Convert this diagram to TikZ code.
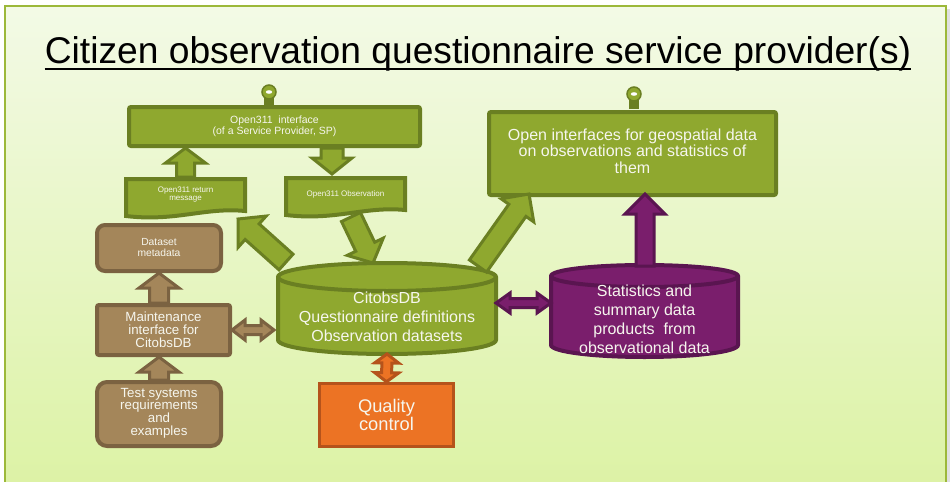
\documentclass[tikz,border=0pt]{standalone}
\usepackage{fontspec}
\setmainfont{Liberation Sans}
\usetikzlibrary{calc}

\definecolor{gfill}{HTML}{8FA82F}
\definecolor{gline}{HTML}{6A7F22}
\definecolor{bfill}{HTML}{A4865A}
\definecolor{bline}{HTML}{7B6241}
\definecolor{pfill}{HTML}{7A1E6C}
\definecolor{pline}{HTML}{5A1550}
\definecolor{ofill}{HTML}{EC7324}
\definecolor{oline}{HTML}{B5531B}
\definecolor{frameline}{HTML}{9CB83A}
\definecolor{bgtop}{HTML}{F3FAE6}
\definecolor{bgbot}{HTML}{DCF2A4}
\definecolor{txt}{HTML}{F6F6EE}

% single block arrow: style, from, to, shaft half width, head half width, head length (pt)
\newcommand\blockarrow[6]{%
  \path[#1] let \p1=(#2), \p2=(#3), \n1={atan2(\y2-\y1,\x2-\x1)},
    \n2={veclen(\x2-\x1,\y2-\y1)-#6} in
    ($(\p1)+(\n1+90:#4pt)$) -- ($(\p1)+(\n1:\n2)+(\n1+90:#4pt)$)
    -- ($(\p1)+(\n1:\n2)+(\n1+90:#5pt)$) -- (\p2)
    -- ($(\p1)+(\n1:\n2)+(\n1-90:#5pt)$) -- ($(\p1)+(\n1:\n2)+(\n1-90:#4pt)$)
    -- ($(\p1)+(\n1-90:#4pt)$) -- cycle;}
% double-headed block arrow, same arguments
\newcommand\twowayarrow[6]{%
  \path[#1] let \p1=(#2), \p2=(#3), \n1={atan2(\y2-\y1,\x2-\x1)},
    \n2={veclen(\x2-\x1,\y2-\y1)-#6} in
    (\p1) -- ($(\p1)+(\n1:#6pt)+(\n1+90:#5pt)$) -- ($(\p1)+(\n1:#6pt)+(\n1+90:#4pt)$)
    -- ($(\p1)+(\n1:\n2)+(\n1+90:#4pt)$) -- ($(\p1)+(\n1:\n2)+(\n1+90:#5pt)$)
    -- (\p2)
    -- ($(\p1)+(\n1:\n2)+(\n1-90:#5pt)$) -- ($(\p1)+(\n1:\n2)+(\n1-90:#4pt)$)
    -- ($(\p1)+(\n1:#6pt)+(\n1-90:#4pt)$) -- ($(\p1)+(\n1:#6pt)+(\n1-90:#5pt)$)
    -- cycle;}

\tikzset{
  every node/.style={inner sep=0pt, align=center, text=txt},
  gbox/.style={draw=gline, fill=gfill, line width=4pt, rounded corners=2pt},
  bbox/.style={draw=bline, fill=bfill, line width=4pt},
  pshape/.style={draw=pline, fill=pfill, line width=4pt},
  obox/.style={draw=oline, fill=ofill, line width=3.5pt},
  garrow/.style={draw=gline, fill=gfill, line width=3pt, line join=miter},
  barrow/.style={draw=bline, fill=bfill, line width=3pt, line join=miter},
  parrow/.style={draw=pline, fill=pfill, line width=3pt, line join=miter},
  oarrow/.style={draw=oline, fill=ofill, line width=3pt, line join=miter},
  fs/.style={font=\fontsize{#1}{#1}\selectfont},
}

\begin{document}
\begin{tikzpicture}[x=1pt, y=-1pt]
\useasboundingbox (0,0) rectangle (951,482);

% panel background
\begin{scope}
  \clip (0,0) rectangle (951,482);
  \fill[white] (0,0) rectangle (951,482);
  \fill[black!12] (8,9) rectangle (950,500);
  \shade[top color=bgtop, bottom color=bgbot] (5,6) rectangle (946,495);
  \draw[frameline, line width=2pt] (5,6) rectangle (946,495);
\end{scope}

% title
\node[text=black, font=\fontsize{37.2}{37}\selectfont, anchor=base] (title) at (478,63)
  {Citizen observation questionnaire service provider(s)};
\draw[black, line width=2.2pt] ([yshift=-6pt]title.base west) -- ([yshift=-6pt]title.base east);

% interface lollipops
\fill[gline] (264,95) rectangle (274,106);
\filldraw[fill=gfill, draw=gline, line width=1.5pt] (269,92) circle[radius=7pt];
\fill[white] (269,92) ellipse[x radius=3.2pt, y radius=1.8pt];
\fill[gline] (629,97) rectangle (639,109);
\filldraw[fill=gfill, draw=gline, line width=1.5pt] (634,94) circle[radius=7pt];
\fill[white] (634,94) ellipse[x radius=3.2pt, y radius=1.8pt];

% Open311 interface
\node[gbox, minimum width=291pt, minimum height=39pt, fs=10.5] (iface) at (274.5,126.5)
  {Open311\ \ interface\\(of a\ Service\ Provider,\ SP)};

% open geospatial interfaces
\node[gbox, minimum width=287pt, minimum height=83pt, anchor=north] (geo) at (632.5,110) {};
\node[font=\fontsize{16}{16.5}\selectfont] (geotext) at (632.5,151)
  {Open interfaces for geospatial data\\on observations and statistics of\\them};

% Open311 return message (document shape)
\path[gbox, rounded corners=0pt] (126,179) -- (245,179) -- (245,211)
  .. controls (205,207) and (175,222) .. (126,216) -- cycle;
\node[fs=8] (retmsg) at (185.5,194.5) {Open311 return\\message};

% Open311 observation (document shape)
\path[gbox, rounded corners=0pt] (286,178) -- (405,178) -- (405,210)
  .. controls (365,206) and (335,221) .. (286,215) -- cycle;
\node[fs=8] (obsmsg) at (345.5,194) {Open311 Observation};

% CitobsDB cylinder
\path[draw=gline, fill=gfill, line width=4pt] (278,277) -- (278,340)
  arc[start angle=180, end angle=360, x radius=109pt, y radius=14pt] -- (496,277)
  arc[start angle=0, end angle=180, x radius=109pt, y radius=14pt] -- cycle;
\draw[gline, line width=4pt] (278,277)
  arc[start angle=180, end angle=360, x radius=109pt, y radius=14pt];
\node[font=\fontsize{16}{19}\selectfont] (citobs) at (387,317)
  {CitobsDB\\Questionnaire definitions\\Observation datasets};

% statistics cylinder
\path[pshape] (551,276) -- (551,345)
  arc[start angle=180, end angle=360, x radius=93.5pt, y radius=12pt] -- (738,276)
  arc[start angle=0, end angle=180, x radius=93.5pt, y radius=11pt] -- cycle;
\draw[pline, line width=4pt] (551,276)
  arc[start angle=180, end angle=360, x radius=93.5pt, y radius=11pt];
\node[font=\fontsize{16}{19}\selectfont] (stats) at (644.5,319)
  {Statistics and\\summary data\\products\ \ from\\observational data};

% maintenance side
\node[bbox, rounded corners=8pt, minimum width=124pt, minimum height=46pt] (dsmeta) at (159,248) {};
\node[font=\fontsize{10.3}{11}\selectfont] at (159,247.5) {Dataset\\metadata};
\node[bbox, rounded corners=2pt, minimum width=133pt, minimum height=50pt] (maint) at (163.5,330) {};
\node[font=\fontsize{13.3}{13}\selectfont] at (163.5,329.5) {Maintenance\\interface for\\CitobsDB};
\node[bbox, rounded corners=10pt, minimum width=124pt, minimum height=64pt] (tests) at (159,414) {};
\node[font=\fontsize{13.3}{12.7}\selectfont] at (159,413) {Test systems\\requirements\\and\\examples};

% quality control
\node[obox, minimum width=134pt, minimum height=63pt, font=\fontsize{18.3}{18}\selectfont]
  (quality) at (386.5,415) {Quality\\control};

% named ends of the arrows
\coordinate (retup) at (185.5,177);
\coordinate (ifaceA) at (185.5,148);
\coordinate (ifaceB) at (332,148);
\coordinate (obsdown) at (332,174);
\coordinate (dbA) at (286,262);
\coordinate (retB) at (238,219);
\coordinate (obsB) at (351,217);
\coordinate (dbB) at (373,263);
\coordinate (dbC) at (478,266);
\coordinate (geoA) at (529,194);
\coordinate (statsTop) at (645,266);
\coordinate (geoB) at (645,194);
\coordinate (dbRight) at (496,303);
\coordinate (statsLeft) at (551,303);
\coordinate (dbBottom) at (387,354);

% arrows
\blockarrow{garrow}{retup}{ifaceA}{9}{20}{15}
\blockarrow{garrow}{ifaceB}{obsdown}{11}{20}{16}
\blockarrow{garrow}{dbA}{retB}{10.5}{21}{19}
\blockarrow{garrow}{obsB}{dbB}{10.5}{20}{18}
\blockarrow{garrow}{dbC}{geoA}{10.5}{20}{20}
\blockarrow{parrow}{statsTop}{geoB}{9}{20}{20}
\blockarrow{barrow}{maint.north -| dsmeta.south}{dsmeta.south}{9.5}{20}{15}
\blockarrow{barrow}{tests.north}{maint.south -| tests.north}{9.5}{20}{15}
\twowayarrow{barrow}{maint.east}{$(maint.east)+(42,0)$}{4.5}{10}{13}
\twowayarrow{parrow}{dbRight}{statsLeft}{4.5}{10}{14}
\twowayarrow{oarrow}{dbBottom}{quality.north}{5}{12}{9}

\end{tikzpicture}
\end{document}
